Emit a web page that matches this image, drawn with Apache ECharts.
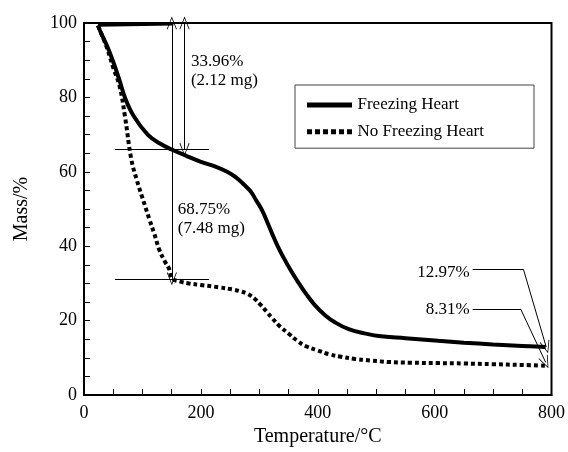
<!DOCTYPE html>
<html><head><meta charset="utf-8">
<script src="https://cdn.jsdelivr.net/npm/echarts@6/dist/echarts.min.js"></script>
<style>html,body{margin:0;padding:0;background:#fff}#c{width:568px;height:452px}</style>
</head><body><div id="c"></div>
<script>
const seriesNames = ['Freezing Heart', 'No Freezing Heart'];
const tempFreezing = [24,30,39,49,60,70,85,109,130,150,175,200,225,245,260,271,285,294,305,315,323,331,342,355,368,381,395,413,430,453,480,504,550,606,650,700,750,790];
const massFreezing = [99.3,97,94,90,85,80,75,70,67.6,66,64.3,62.7,61.4,60,58.5,57,54.8,52.5,49.6,46,43,40.2,36.8,33.2,30,27,24.2,21.4,19.5,17.7,16.6,15.9,15.3,14.6,14.1,13.6,13.2,12.9];
const tempNoFreezing = [24,30,40,50,61,70,81,90,100,112,120,129,138,146,151,165,180,200,230,254,265,280,292,302,312,322,335,351,365,379,400,419,440,464,490,521,560,606,650,700,750,790];
const massNoFreezing = [99.3,97,93,88,83,75,63.3,58,53,47.2,43.5,39,36,33.8,31.3,30.5,30,29.6,29,28.4,28,27.2,25.9,24.3,22.5,20.7,18.5,16.4,14.6,13.2,12,11,10.3,9.7,9.3,8.9,8.7,8.6,8.5,8.3,8.1,7.9];
const startTemps = [24,153];
const startMass = [99.4,99.7];
const xTickLabels = [0,200,400,600,800];
const yTickLabels = [0,20,40,60,80,100];
const annotTexts = ['33.96%\n(2.12 mg)','68.75%\n(7.48 mg)','12.97%','8.31%'];
const annotCoords = [[183,87],[160.5,47.2],[660,32.9],[660,23.1]];
const stepLevels = [66.04,31.25];

const FONT = "'Liberation Serif','Times New Roman',serif";
const arrow = 'path://M0,0 L6,14 L5.2,14.6 L0,2.2 L-5.2,14.6 L-6,14 Z';
const solidIcon = 'path://M0,0H45V5H0Z';
const dottedIcon = 'path://M0,0h5v5h-5z M8,0h5v5h-5z M16,0h5v5h-5z M24,0h5v5h-5z M32,0h5v5h-5z M40,0h5v5h-5z';
const zip = (a,b)=>a.map((v,i)=>[v,b[i]]);

const chart = echarts.init(document.getElementById('c'));
chart.setOption({
  backgroundColor:'#fff',
  animation:false,
  grid:{left:84,right:14,top:23,bottom:56,show:true,borderColor:'#000',borderWidth:2,backgroundColor:'transparent'},
  legend:{
    data:[{name:seriesNames[0],icon:solidIcon},{name:seriesNames[1],icon:dottedIcon}],
    orient:'vertical', left:295, top:85,
    padding:[11.5,50,8,12], itemGap:9.7, itemWidth:46, itemHeight:5,
    borderColor:'#444', borderWidth:1,
    itemStyle:{color:'#000'},
    textStyle:{fontFamily:FONT,fontSize:17,color:'#000',lineHeight:17}
  },
  xAxis:{
    type:'value', min:0, max:800, interval:50,
    name:'Temperature/°C', nameLocation:'middle', nameGap:30,
    nameTextStyle:{fontFamily:FONT,fontSize:20,color:'#000'},
    axisLine:{lineStyle:{color:'#000',width:2}},
    axisTick:{inside:true,length:6,lineStyle:{color:'#000',width:1}},
    axisLabel:{fontFamily:FONT,fontSize:18,color:'#000',margin:9,
      formatter:v=>xTickLabels.includes(v)?String(v):''},
    splitLine:{show:false}
  },
  yAxis:{
    type:'value', min:0, max:100, interval:5,
    name:'Mass/%', nameLocation:'middle', nameGap:52,
    nameTextStyle:{fontFamily:FONT,fontSize:20,color:'#000'},
    axisLine:{lineStyle:{color:'#000',width:2}},
    axisTick:{inside:true,length:6,lineStyle:{color:'#000',width:1}},
    axisLabel:{fontFamily:FONT,fontSize:18,color:'#000',margin:7,
      formatter:v=>yTickLabels.includes(v)?String(v):''},
    splitLine:{show:false}
  },
  series:[
    {name:seriesNames[0],type:'line',data:zip(tempFreezing,massFreezing),showSymbol:false,symbol:'none',smooth:0.4,
      lineStyle:{color:'#000',width:4},itemStyle:{color:'#000'},z:3,
      markLine:{silent:true,symbol:[arrow,arrow],symbolSize:[10,13],
        lineStyle:{color:'#000',width:1,type:'solid'},label:{show:false},
        data:[
          [{coord:[150.3,100]},{coord:[150.3,stepLevels[1]]}],
          [{coord:[172,100]},{coord:[172,stepLevels[0]]}],
          [{coord:[53,stepLevels[0]],symbol:'none'},{coord:[214,stepLevels[0]],symbol:'none'}],
          [{coord:[53,stepLevels[1]],symbol:'none'},{coord:[214,stepLevels[1]],symbol:'none'}],
          [{coord:[665,33.8],symbol:'none'},{coord:[752,33.8],symbol:'none'}],
          [{coord:[752,33.8],symbol:'none'},{coord:[791,12.9]}],
          [{coord:[665,23.2],symbol:'none'},{coord:[747,23.2],symbol:'none'}],
          [{coord:[747,23.2],symbol:'none'},{coord:[790,8.8]}]
        ]},
      markPoint:{silent:true,symbol:'circle',symbolSize:0,
        label:{show:true,fontFamily:FONT,fontSize:17,color:'#000',lineHeight:19,position:'inside',verticalAlign:'middle'},
        data:annotCoords.map((c,i)=>({coord:c,label:{formatter:annotTexts[i],align:i<2?'left':'right'}}))}
    },
    {name:seriesNames[1],type:'line',data:zip(tempNoFreezing,massNoFreezing),showSymbol:false,symbol:'none',smooth:0.4,
      lineStyle:{color:'#000',width:4,type:[4,3]},itemStyle:{color:'#000'},z:3},
    {name:'start',type:'line',data:zip(startTemps,startMass),showSymbol:false,symbol:'none',
      lineStyle:{color:'#000',width:3},z:3}
  ]
});
</script></body></html>
